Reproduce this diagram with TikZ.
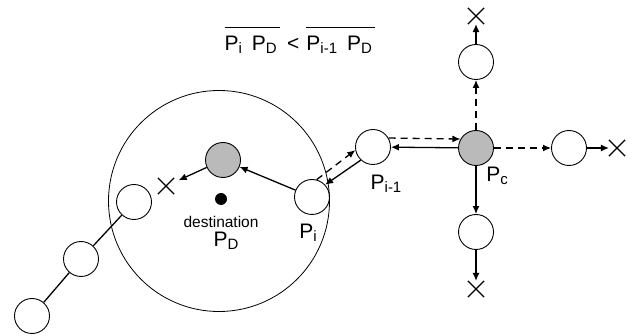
\documentclass[tikz,border=0pt]{standalone}
\usepackage{fontspec}
\setmainfont{Liberation Sans}
\usetikzlibrary{arrows.meta,shapes.misc}
\newcommand{\Plab}[1]{P\raisebox{-3pt}{\fontsize{15}{17}\selectfont #1}}
\begin{document}
\begin{tikzpicture}[x=1pt,y=-1pt,
    >={Latex[length=8pt,width=7pt]},
    host/.style={circle,draw,line width=0.9pt,minimum size=35pt,inner sep=0pt},
    cand/.style={host,fill=black!27},
    dead/.style={cross out,draw,line width=1.2pt,minimum size=15pt,inner sep=0pt},
    hop/.style={->,line width=1.3pt},
    probe/.style={->,line width=1.3pt,dash pattern=on 7pt off 5pt},
    lbl/.style={inner sep=0pt,font=\fontsize{21}{24}\selectfont}]
    %\draw [help lines] (0,0) grid[step=20] (637,336);
    \useasboundingbox (0,0) rectangle (637,336);

    \node (range) [circle,draw,line width=0.8pt,minimum size=221pt,inner sep=0pt] at (219,201) {};

    \node (dst) [circle,fill,minimum size=12pt,inner sep=0pt] at (221,199) {};
    \node (P_t) [cand] at (223,160) {};
    \node (P_i) [host] at (312,197) {};
    \node (P_i-1) [host] at (373,147) {};
    \node (P_c) [cand] at (476,148) {};
    \node (P_up) [host] at (476,62) {};
    \node (P_dn) [host] at (476,232) {};
    \node (P_rt) [host] at (569,148) {};
    \node (P_b1) [host] at (134,202) {};
    \node (P_b2) [host] at (81,259) {};
    \node (P_b3) [host] at (32,316) {};

    \node (X_up) [dead] at (476,16) {};
    \node (X_dn) [dead] at (476,289) {};
    \node (X_rt) [dead] at (617,148) {};
    \node (X_lf) [dead] at (166,186) {};

    \node (cond) [lbl,anchor=base] at (300,51) {$\overline{\hbox{\rule{0pt}{22pt}\Plab{i}\hspace{10pt}\Plab{D}\,}}$\hspace{7pt}<\hspace{7pt}$\overline{\hbox{\rule{0pt}{22pt}\Plab{i-1}\hspace{10pt}\Plab{D}\,}}$};
    \node (dest) [inner sep=0pt,font=\fontsize{15.5}{18}\selectfont] at (221,222) {destination};
    \node (lab_D) [lbl] at (226,241) {\Plab{D}};
    \node (lab_i) [lbl] at (308,233) {\Plab{i}};
    \node (lab_i-1) [lbl] at (386,184) {\Plab{i-1}};
    \node (lab_c) [lbl] at (497,176) {\Plab{c}};

    \draw[hop] (P_i) to (P_t);
    \draw[hop] (P_i-1.227) to (P_i.43);
    \draw[probe] (P_i.75) to (P_i-1.190);
    \draw[hop] (P_c) to (P_i-1);
    \draw[probe] (P_i-1.30) to (P_c.150);
    \draw[probe] (P_c) to (P_up);
    \draw[probe] (P_c) to (P_rt);
    \draw[hop] (P_c) to (P_dn);
    \draw[hop] (P_up) to (X_up);
    \draw[hop] (P_rt) to (X_rt);
    \draw[hop] (P_dn) to (X_dn);
    \draw[hop,shorten >=5pt] (P_t) to (X_lf);
    \draw[line width=1.3pt] (P_b1) to (P_b2);
    \draw[line width=1.3pt] (P_b2) to (P_b3);
  \end{tikzpicture}
\end{document}
